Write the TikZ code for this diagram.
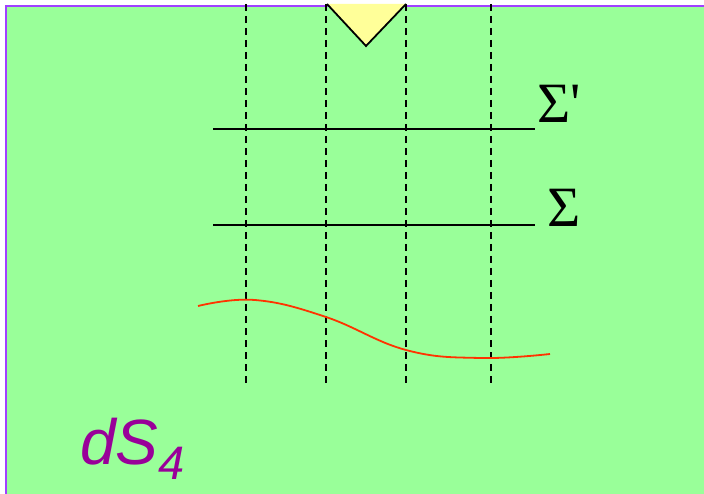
\documentclass[tikz,border=0pt]{standalone}
\usepackage{fontspec}
\newfontfamily\sigmafont{Liberation Serif}
\newfontfamily\labelfont{Liberation Sans}
\definecolor{bggreen}{HTML}{99FF99}
\definecolor{edgepurple}{HTML}{A040FF}
\definecolor{wedgeyellow}{HTML}{FFFF99}
\definecolor{curvered}{HTML}{FF3300}
\definecolor{textpurple}{HTML}{990099}
\tikzset{
  slice/.style={line width=1.8pt, dash pattern=on 7pt off 5pt},
  surface/.style={line width=1.8pt},
  siglabel/.style={anchor=base west, inner sep=0pt, font=\sigmafont\fontsize{57}{60}\selectfont}
}
\begin{document}
\begin{tikzpicture}[x=1pt, y=-1pt]
  \useasboundingbox (0,0) rectangle (704,494);

  % ================= 背景 =================
  \fill[bggreen] (6,6) rectangle (704,494);
  \draw[edgepurple, line width=1.8pt] (6,494) -- (6,6) -- (704,6);

  % ================= 竖直虚线 =================
  \foreach \x in {246,326,406,491}
    \draw[slice] (\x,4) -- (\x,386);

  % 顶部楔形
  \fill[wedgeyellow] (327,4) -- (366,46) -- (406,4) -- cycle;
  \draw[line width=1.8pt] (327,4) -- (366,46) -- (406,4);

  % ================= 两个切面 =================
  \draw[surface] (213,129) -- (535,129);
  \node[siglabel] (sigmaprime) at (537,123) {\symbol{"03A3}\symbol{"27}};
  \draw[surface] (213,225) -- (535,225);
  \node[siglabel] (sigma) at (547,227) {\symbol{"03A3}};

  % 红色曲线
  \draw[curvered, line width=1.8pt] plot[smooth, tension=0.7] coordinates
    {(198,306) (255,300) (326,317) (406,350) (480,358) (550,354)};

  % 标签
  \node[anchor=base west, inner sep=0pt, text=textpurple,
        font=\labelfont\itshape\fontsize{64}{68}\selectfont] (dsfour) at (80,464)
    {dS\raisebox{-15pt}{\fontsize{47}{50}\selectfont 4}};
\end{tikzpicture}
\end{document}
